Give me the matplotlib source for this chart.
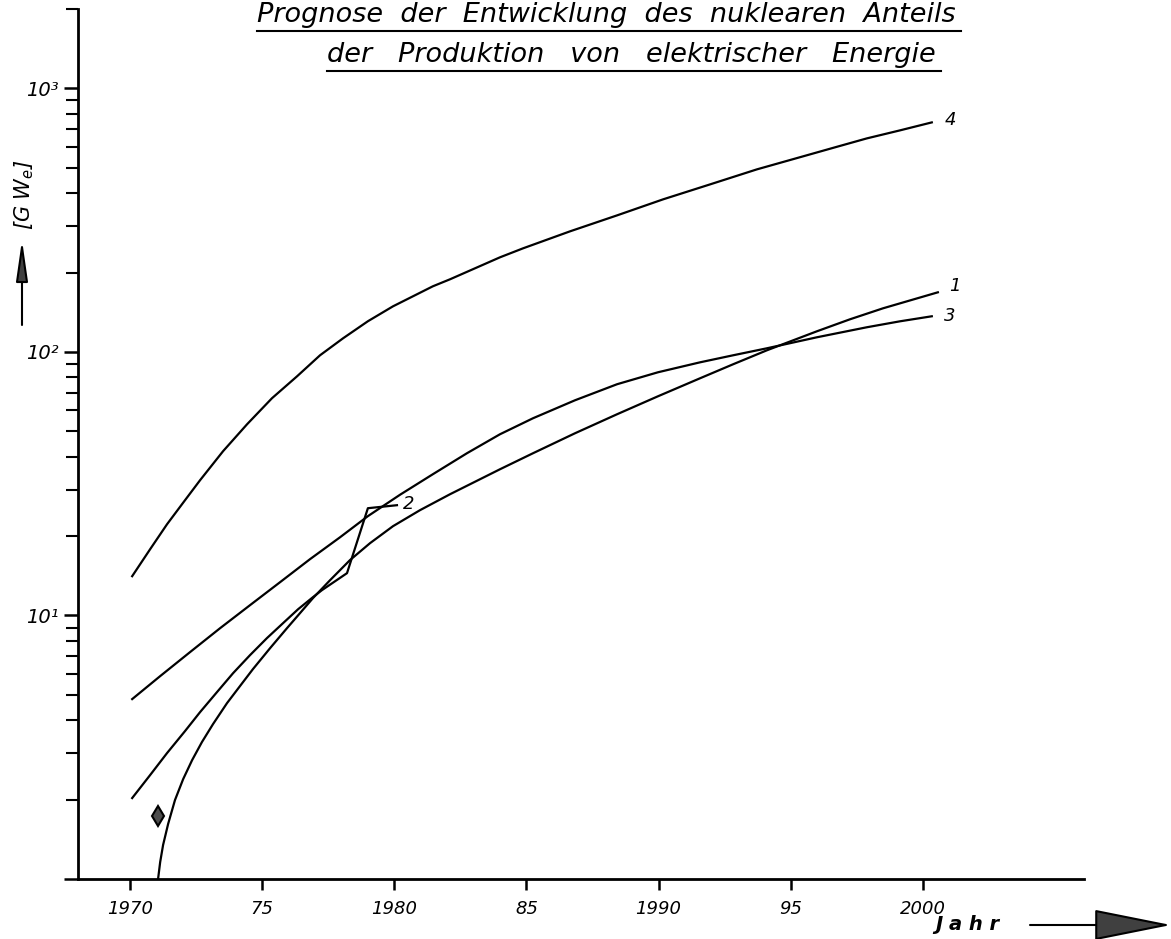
import matplotlib
matplotlib.use("Agg")
import matplotlib.pyplot as plt
from matplotlib.lines import Line2D
from matplotlib.patches import FancyArrowPatch
from matplotlib.ticker import NullFormatter

plt.rcParams['font.family'] = ['DejaVu Sans']

# Kurve 4
jahre_4 = [1970.08, 1970.76, 1971.40, 1972.08, 1972.65, 1973.52, 1974.43, 1975.37,
           1976.32, 1977.19, 1978.06, 1979.00, 1979.95, 1981.46, 1982.11, 1984.00,
           1984.87, 1986.65, 1988.43, 1990.17, 1991.95, 1993.72, 1995.46, 1996.67,
           1997.88, 1999.13, 2000.34]
werte_4 = [14.09, 17.84, 22.19, 27.37, 32.60, 42.00, 53.17, 66.7, 80.8, 97.1, 112.6,
           130.7, 148.9, 177.4, 188.6, 228.5, 247.1, 286.7, 329.6, 379.1, 432.1, 492.6,
           551.7, 597.0, 645.7, 692.4, 742.6]

# Kurve 1
jahre_1 = [1971.06, 1971.14, 1971.25, 1971.44, 1971.70, 1972.01, 1972.35, 1972.72,
           1973.14, 1973.67, 1974.16, 1974.65, 1975.30, 1975.94, 1976.43, 1976.92,
           1977.57, 1978.32, 1979.08, 1979.95, 1980.97, 1982.11, 1984.00, 1985.25,
           1986.84, 1988.43, 1989.98, 1991.57, 1992.82, 1994.10, 1995.99, 1997.24,
           1998.49, 2000.57]
werte_1 = [1.0, 1.160, 1.346, 1.617, 1.993, 2.394, 2.827, 3.308, 3.871, 4.650, 5.395,
           6.257, 7.516, 8.951, 10.20, 11.63, 13.61, 16.21, 18.80, 21.81, 25.08, 28.84,
           35.87, 41.26, 49.13, 58.00, 67.87, 79.41, 89.74, 101.4, 119.7, 132.9, 146.3,
           168.3]

# Kurve 2
jahre_2 = [1970.08, 1970.76, 1971.40, 1972.08, 1972.65, 1973.29, 1973.90, 1974.54,
           1975.18, 1975.79, 1976.36, 1976.92, 1977.26, 1978.21, 1979.00, 1980.10]
werte_2 = [2.028, 2.480, 3.005, 3.641, 4.298, 5.119, 6.041, 7.07, 8.203, 9.350,
           10.56, 11.73, 12.47, 14.47, 25.52, 26.20]

# Kurve 3
jahre_3 = [1970.08, 1971.14, 1972.27, 1973.41, 1974.54, 1975.68, 1976.81, 1977.95,
           1979.00, 1980.22, 1981.46, 1982.75, 1984.00, 1985.25, 1986.84, 1988.43,
           1989.98, 1991.57, 1992.82, 1994.10, 1995.99, 1997.88, 1999.13, 2000.34]
werte_3 = [4.815, 5.886, 7.259, 8.951, 10.94, 13.38, 16.35, 19.81, 23.81, 28.72,
           34.35, 41.26, 48.70, 56.01, 65.54, 75.39, 83.70, 91.29, 97.07, 103.2,
           113.6, 124.0, 130.6, 136.5]

# Einzelpunkt
punkt_jahr = [1971.05]
punkt_wert = [1.73]

x_ticks = [1970, 1975, 1980, 1985, 1990, 1995, 2000]
x_labels = ['1970', '75', '1980', '85', '1990', '95', '2000']
y_ticks = [1, 10, 100, 1000]
y_labels = ['', '10¹', '10²', '10³']

fig = plt.figure(figsize=(11.71, 9.39), dpi=100)
ax = fig.add_axes([78/1171, 1 - 879/939, (1084 - 78)/1171, (879 - 9)/939])
ax.set_yscale('log')
ax.set_xlim(1968.03, 2006.1)
ax.set_ylim(1, 2000)

lw = 1.6
for jj, ww in [(jahre_4, werte_4), (jahre_1, werte_1), (jahre_2, werte_2), (jahre_3, werte_3)]:
    ax.plot(jj, ww, color='k', lw=lw, solid_joinstyle='round')

ax.plot(punkt_jahr, punkt_wert, marker='d', markersize=10, mfc='0.3', mec='k',
        mew=1.5, ls='none')

# Kurvenbeschriftung
for lab, x, y, dx, dy in [('4', jahre_4[-1], werte_4[-1], 13, 2),
                          ('1', jahre_1[-1], werte_1[-1], 11, 6),
                          ('3', jahre_3[-1], werte_3[-1], 12, 0),
                          ('2', jahre_2[-1], werte_2[-1], 6, 1)]:
    ax.annotate(lab, xy=(x, y), xytext=(dx, dy), textcoords='offset pixels',
                ha='left', va='center', fontsize=13, fontstyle='italic')

for s in ['top', 'right']:
    ax.spines[s].set_visible(False)
for s in ['left', 'bottom']:
    ax.spines[s].set_linewidth(2.0)

ax.set_xticks(x_ticks)
ax.set_xticklabels(x_labels, fontstyle='italic', fontsize=13)
ax.tick_params(axis='x', direction='out', length=8, width=1.8, pad=7)

ax.set_yticks(y_ticks)
ax.set_yticklabels(y_labels, fontsize=14, fontstyle='italic')
ax.tick_params(axis='y', which='major', direction='out', length=10, width=1.8, pad=4)
ax.tick_params(axis='y', which='minor', direction='out', length=9, width=1.5)
ax.yaxis.set_minor_formatter(NullFormatter())

# Titel
t1 = fig.text(606/1171, 1 - 15/939, 'Prognose  der  Entwicklung  des  nuklearen  Anteils',
              ha='center', va='center', fontsize=19.5, fontstyle='italic')
t2 = fig.text(631/1171, 1 - 55/939, 'der   Produktion   von   elektrischer   Energie',
              ha='center', va='center', fontsize=19.5, fontstyle='italic')

# y-Beschriftung mit Pfeil
fig.text(24/1171, 1 - 195/939, '[G W$_e$]', rotation=90, ha='center', va='center',
         fontsize=15, fontstyle='italic')
fig.add_artist(FancyArrowPatch(
    (22/1171, 1 - 325/939), (22/1171, 1 - 240/939), transform=fig.transFigure,
    arrowstyle='-|>,head_length=25,head_width=3.6', mutation_scale=1,
    shrinkA=0, shrinkB=0, lw=1.5, color='k', fc='0.25'))

# x-Beschriftung mit Pfeil
fig.text(967/1171, 1 - 925/939, 'J a h r', ha='center', va='center',
         fontsize=14, fontstyle='italic', fontweight='bold')
fig.add_artist(FancyArrowPatch(
    (1030/1171, 1 - 925/939), (1171/1171, 1 - 925/939), transform=fig.transFigure,
    arrowstyle='-|>,head_length=50,head_width=10', mutation_scale=1,
    shrinkA=0, shrinkB=0, lw=1.5, color='k', fc='0.25'))

# Unterstreichung der Titelzeilen
fig.canvas.draw()
r = fig.canvas.get_renderer()
inv = fig.transFigure.inverted()
for t in [t1, t2]:
    bb = t.get_window_extent(r)
    (x0, y0), (x1, _) = inv.transform([(bb.x0, bb.y0 - 3), (bb.x1 + 6, bb.y0)])
    fig.add_artist(Line2D([x0, x1], [y0, y0], color='k', lw=1.5,
                          transform=fig.transFigure))

fig.savefig('out.png', dpi=100)
